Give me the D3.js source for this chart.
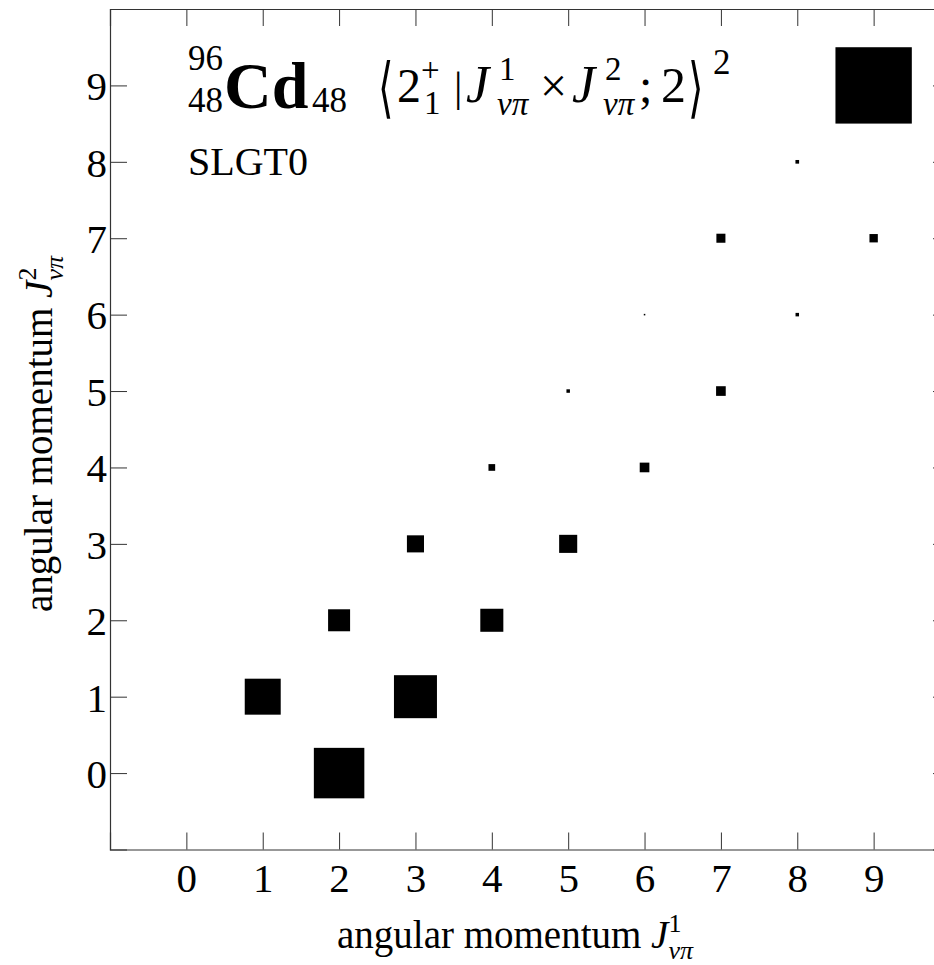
<!DOCTYPE html>
<html>
<head>
<meta charset="utf-8">
<script src="https://cdn.jsdelivr.net/npm/d3@7"></script>
<style>
  html, body { margin: 0; padding: 0; background: #fff; }
  svg { display: block; }
</style>
</head>
<body>
<svg id="chart" width="934" height="965"></svg>
<script>
// Coupled angular momenta (J1, J2) of the 2+_1 state and their squared amplitudes
const j1Values = [2, 1, 3, 2, 4, 3, 5, 4, 6, 5, 7, 6, 8, 7, 9, 8];
const j2Values = [0, 1, 1, 2, 2, 3, 3, 4, 4, 5, 5, 6, 6, 7, 7, 8];
const weights  = [0.437, 0.222, 0.317, 0.083, 0.091, 0.050, 0.056, 0.0077,
                  0.016, 0.0021, 0.016, 0.0004, 0.0021, 0.014, 0.012, 0.0023];

// Reference square (unit weight) placed in the upper right corner
const legendJ1 = [9];
const legendJ2 = [9];
const legendWeight = [1];

const xTickValues = [0, 1, 2, 3, 4, 5, 6, 7, 8, 9];
const yTickValues = [0, 1, 2, 3, 4, 5, 6, 7, 8, 9];

const SERIF = "'Liberation Serif', 'DejaVu Serif', serif";

const svg = d3.select("#chart");

const plotLeft = 110, plotRight = 950, plotTop = 9, plotBottom = 849.5;

const x = d3.scaleLinear().domain([-1, 10]).range([plotLeft, plotRight]);
const y = d3.scaleLinear().domain([-1, 10]).range([plotBottom, plotTop]);
const unit = x(1) - x(0);
const side = d3.scaleSqrt().domain([0, 1]).range([0, unit]);

const tickLen = 17;
const axisColor = "#333";

// Tick marks on all four sides, pointing inward
const axisB = d3.axisBottom(x).tickValues(xTickValues).tickSize(-tickLen).tickPadding(13).tickFormat(d3.format("d"));
const axisT = d3.axisTop(x).tickValues(xTickValues).tickSize(-tickLen).tickFormat("");
const axisL = d3.axisLeft(y).tickValues(yTickValues).tickSize(-tickLen).tickPadding(3).tickFormat(d3.format("d"));
const axisR = d3.axisRight(y).tickValues(yTickValues).tickSize(-tickLen).tickFormat("");

function styleAxis(g) {
  g.select(".domain").attr("stroke", axisColor).attr("stroke-width", 1.2);
  g.selectAll(".tick line").attr("stroke", axisColor).attr("stroke-width", 1);
  g.selectAll(".tick text")
    .style("font-family", SERIF)
    .style("font-size", "41px")
    .attr("fill", "#000");
}

svg.append("g").attr("transform", `translate(0,${plotBottom})`).call(axisB).call(styleAxis)
  .selectAll(".tick text").attr("dy", "0.71em");
svg.append("g").attr("transform", `translate(0,${plotTop})`).call(axisT).call(styleAxis);
svg.append("g").attr("transform", `translate(${plotLeft},0)`).call(axisL).call(styleAxis)
  .selectAll(".tick text").attr("dy", "0.35em");
svg.append("g").attr("transform", `translate(${plotRight},0)`).call(axisR).call(styleAxis);

// Weight squares, area proportional to the squared amplitude
const cells = j1Values.map((j, i) => ({ j1: j, j2: j2Values[i], w: weights[i] }));
const legendCells = legendJ1.map((j, i) => ({ j1: j, j2: legendJ2[i], w: legendWeight[i] }));

svg.append("g").selectAll("rect")
  .data(cells.concat(legendCells))
  .join("rect")
  .attr("x", d => x(d.j1) - side(d.w) / 2)
  .attr("y", d => y(d.j2) - side(d.w) / 2)
  .attr("width", d => side(d.w))
  .attr("height", d => side(d.w))
  .attr("fill", "#000");

// Axis titles
function axisTitle(sel, sup) {
  sel.style("font-family", SERIF).style("font-size", "39px").attr("fill", "#000");
  sel.append("tspan").text("angular momentum ");
  sel.append("tspan").style("font-style", "italic").text("J");
  sel.append("tspan").attr("dy", -16).style("font-size", "26px").text(sup);
  sel.append("tspan").attr("dx", -13).attr("dy", 27).style("font-size", "26px").style("font-style", "italic").text("νπ");
}
svg.append("text")
  .attr("x", 515).attr("y", 948)
  .attr("text-anchor", "middle")
  .call(axisTitle, "1");

svg.append("text")
  .attr("transform", "translate(52,434) rotate(-90)")
  .attr("text-anchor", "middle")
  .call(axisTitle, "2");

// Header: nucleus and projection label
const hdr = svg.append("g");
function label(txt, px, py, size, opts = {}) {
  const t = hdr.append("text")
    .attr("x", px).attr("y", py)
    .style("font-family", opts.family || SERIF)
    .style("font-size", size + "px")
    .attr("fill", "#000")
    .text(txt);
  if (opts.bold) t.style("font-weight", "bold");
  if (opts.italic) t.style("font-style", "italic");
  if (opts.transform) t.attr("transform", opts.transform).attr("x", 0).attr("y", 0);
  return t;
}
label("96", 188, 70, 35);
label("48", 188, 112, 35);
label("Cd", 224, 108, 66, { bold: true });
label("48", 312, 112, 35);

label("\u27E8", 0, 0, 44, { family: "'DejaVu Sans', sans-serif", transform: "translate(378,110) scale(0.9,1.5)" });
label("2", 397, 102, 48);
label("+", 421, 81, 33);
label("1", 424, 114, 33);
label("|", 454, 101, 42);
label("J", 466, 102, 52, { italic: true });
label("1", 499, 80, 33);
label("νπ", 497, 115, 33, { italic: true });
label("×", 540, 102, 48);
label("J", 572, 102, 52, { italic: true });
label("2", 605, 80, 33);
label("νπ", 603, 115, 33, { italic: true });
label(";", 639, 102, 48);
label("2", 661, 102, 50);
label("\u27E9", 0, 0, 44, { family: "'DejaVu Sans', sans-serif", transform: "translate(688,110) scale(0.9,1.5)" });
label("2", 713, 74, 35);

label("SLGT0", 188, 175, 40);
</script>
</body>
</html>
